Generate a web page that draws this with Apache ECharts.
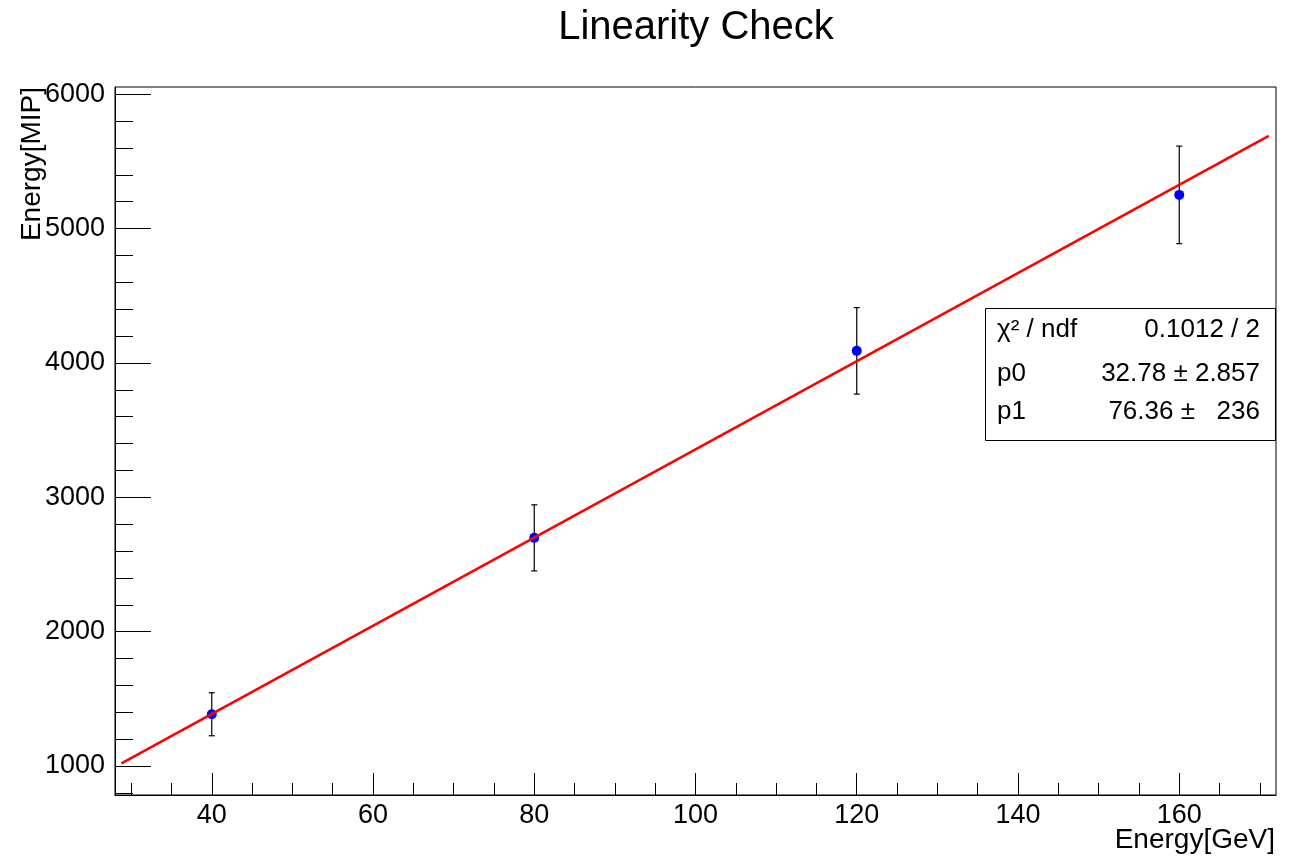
<!DOCTYPE html>
<html>
<head>
<meta charset="utf-8">
<title>Linearity Check</title>
<script src="https://cdn.jsdelivr.net/npm/echarts@6/dist/echarts.min.js"></script>
<style>
html, body { margin: 0; padding: 0; background: #fff; }
#chart { width: 1297px; height: 859px; }
</style>
</head>
<body>
<div id="chart"></div>
<script>
// measured points (beam energy vs reconstructed energy)
var energyGeV = [40, 80, 120, 160];
var energyMIP = [1385, 2698, 4090, 5251];
var errorMIP = [160, 246, 322, 363];

// fitted straight line, end points
var fitX = [28.8, 171.1];
var fitY = [1020, 5690];

// ticks
var xLabelTicks = [40, 60, 80, 100, 120, 140, 160];
var xMinorTicks = [30, 35, 40, 45, 50, 55, 60, 65, 70, 75, 80, 85, 90, 95, 100,
    105, 110, 115, 120, 125, 130, 135, 140, 145, 150, 155, 160, 165, 170];
var yLabelTicks = [1000, 2000, 3000, 4000, 5000, 6000];
var yMinorTicks = [800, 1000, 1200, 1400, 1600, 1800, 2000, 2200, 2400, 2600, 2800,
    3000, 3200, 3400, 3600, 3800, 4000, 4200, 4400, 4600, 4800, 5000, 5200, 5400,
    5600, 5800, 6000];

// fit statistics box
var statNames = ['χ² / ndf', 'p0', 'p1'];
var statValues = ['0.1012 / 2', '32.78 ± 2.857', '76.36 ±   236'];

var FONT = '"Liberation Sans", Arial, Helvetica, sans-serif';

function plain(v) {
    return String(v);
}

function linearity() {
    var mychart = echarts.init(document.getElementById('chart'));

    var points = energyGeV.map(function (x, i) {
        return [x, energyMIP[i], errorMIP[i]];
    });
    var fitLine = fitX.map(function (x, i) {
        return [x, fitY[i]];
    });

    var statRows = [308.5, 330, 374, 412];
    var stats = [{
        type: 'rect',
        z: 100,
        shape: {x: 985.5, y: statRows[0], width: 290, height: 132},
        style: {fill: '#fff', stroke: '#000', lineWidth: 1}
    }];
    statNames.forEach(function (name, i) {
        stats.push({
            type: 'text', z: 101, x: 997, y: statRows[i + 1],
            style: {text: name, font: '26px ' + FONT, fill: '#000',
                textAlign: 'left', align: 'left', textVerticalAlign: 'middle', verticalAlign: 'middle'}
        });
        stats.push({
            type: 'text', z: 101, x: 1260, y: statRows[i + 1],
            style: {text: statValues[i], font: '26px ' + FONT, fill: '#000',
                textAlign: 'right', align: 'right', textVerticalAlign: 'middle', verticalAlign: 'middle'}
        });
    });

    var option = {
        animation: false,
        backgroundColor: '#fff',
        grid: {
            left: 115, top: 87, right: 21, bottom: 64,
            show: true, borderColor: '#000', borderWidth: 1
        },
        xAxis: [{
            type: 'value', min: 28, max: 172, position: 'bottom',
            axisLine: {show: true, lineStyle: {color: '#000'}},
            splitLine: {show: false},
            axisTick: {show: true, inside: true, length: 22, customValues: xLabelTicks,
                lineStyle: {color: '#000'}},
            axisLabel: {customValues: xLabelTicks, margin: 7, fontSize: 27,
                color: '#000', fontFamily: FONT, formatter: plain}
        }, {
            type: 'value', min: 28, max: 172, position: 'bottom',
            axisLine: {show: false},
            splitLine: {show: false},
            axisLabel: {show: false},
            axisTick: {show: true, inside: true, length: 12, customValues: xMinorTicks,
                lineStyle: {color: '#000'}}
        }],
        yAxis: [{
            type: 'value', min: 784, max: 6054, position: 'left',
            axisLine: {show: true, lineStyle: {color: '#000'}},
            splitLine: {show: false},
            axisTick: {show: true, inside: true, length: 36, customValues: yLabelTicks,
                lineStyle: {color: '#000'}},
            axisLabel: {customValues: yLabelTicks, margin: 10, fontSize: 27,
                color: '#000', fontFamily: FONT, formatter: plain}
        }, {
            type: 'value', min: 784, max: 6054, position: 'left',
            axisLine: {show: false},
            splitLine: {show: false},
            axisLabel: {show: false},
            axisTick: {show: true, inside: true, length: 18, customValues: yMinorTicks,
                lineStyle: {color: '#000'}}
        }],
        graphic: [{
            type: 'text', x: 696, y: 28,
            style: {text: 'Linearity Check', font: '40px ' + FONT, fill: '#000',
                textAlign: 'center', align: 'center', textVerticalAlign: 'middle', verticalAlign: 'middle'}
        }, {
            type: 'text', x: 1275, y: 840,
            style: {text: 'Energy[GeV]', font: '28px ' + FONT, fill: '#000',
                textAlign: 'right', align: 'right', textVerticalAlign: 'middle', verticalAlign: 'middle'}
        }, {
            type: 'text', x: 32, y: 87, rotation: Math.PI / 2,
            style: {text: 'Energy[MIP]', font: '28px ' + FONT, fill: '#000',
                textAlign: 'right', align: 'right', textVerticalAlign: 'middle', verticalAlign: 'middle'}
        }].concat(stats),
        series: [{
            type: 'custom',
            z: 1,
            data: points,
            encode: {x: 0, y: 1},
            renderItem: function (params, api) {
                var x = api.value(0);
                var lo = api.coord([x, api.value(1) - api.value(2)]);
                var hi = api.coord([x, api.value(1) + api.value(2)]);
                var cap = 3;
                var st = {stroke: '#000', lineWidth: 1.2};
                return {
                    type: 'group',
                    children: [
                        {type: 'line', shape: {x1: lo[0], y1: lo[1], x2: hi[0], y2: hi[1]}, style: st},
                        {type: 'line', shape: {x1: lo[0] - cap, y1: lo[1], x2: lo[0] + cap, y2: lo[1]}, style: st},
                        {type: 'line', shape: {x1: hi[0] - cap, y1: hi[1], x2: hi[0] + cap, y2: hi[1]}, style: st}
                    ]
                };
            }
        }, {
            type: 'scatter',
            z: 2,
            symbol: 'circle',
            symbolSize: 10,
            itemStyle: {color: '#0000ff', opacity: 1},
            data: points
        }, {
            type: 'line',
            z: 3,
            showSymbol: false,
            lineStyle: {color: '#ff0000', width: 2.6},
            data: fitLine
        }]
    };
    mychart.setOption(option);
}

linearity();
</script>
</body>
</html>
